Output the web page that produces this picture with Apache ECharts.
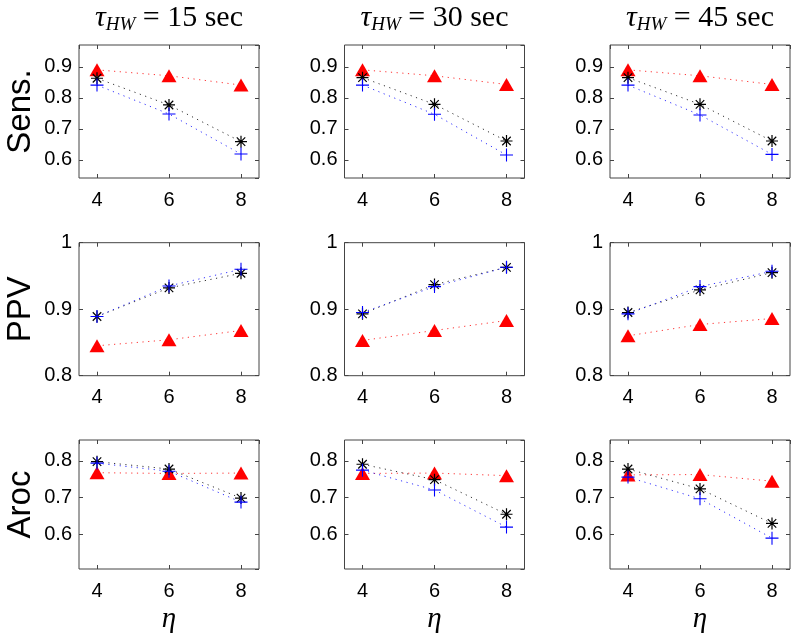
<!DOCTYPE html>
<html><head><meta charset="utf-8">
<script src="https://cdn.jsdelivr.net/npm/echarts/dist/echarts.min.js"></script>
<style>html,body{margin:0;padding:0;background:#fff}#c{width:800px;height:635px}</style>
</head><body><div id="c"></div>
<script>
// ---- data ----
const etas = [4, 6, 8];
const tauLabels = ['15', '30', '45'];
const metricNames = ['Sens.', 'PPV', 'Aroc'];
// each array: one row per tau (15, 30, 45), values at eta = 4, 6, 8
const sensTriangle = [[0.890, 0.871, 0.841], [0.890, 0.871, 0.843], [0.890, 0.871, 0.843]];
const sensStar     = [[0.863, 0.777, 0.659], [0.865, 0.779, 0.661], [0.865, 0.779, 0.661]];
const sensPlus     = [[0.841, 0.748, 0.619], [0.841, 0.747, 0.616], [0.841, 0.745, 0.618]];
const ppvTriangle  = [[0.845, 0.854, 0.868], [0.853, 0.868, 0.883], [0.860, 0.877, 0.886]];
const ppvStar      = [[0.889, 0.932, 0.954], [0.893, 0.937, 0.963], [0.895, 0.929, 0.955]];
const ppvPlus      = [[0.889, 0.935, 0.960], [0.895, 0.934, 0.963], [0.893, 0.934, 0.957]];
const arocTriangle = [[0.768, 0.766, 0.767], [0.766, 0.767, 0.760], [0.762, 0.763, 0.745]];
const arocStar     = [[0.798, 0.778, 0.699], [0.791, 0.749, 0.655], [0.778, 0.724, 0.630]];
const arocPlus     = [[0.794, 0.772, 0.688], [0.775, 0.721, 0.620], [0.756, 0.697, 0.590]];
const yRanges = [[0.542, 0.970], [0.8, 1.0], [0.506, 0.857]];
const xRange = [3.5, 8.5];

const metricData = [
  [sensTriangle, sensStar, sensPlus],
  [ppvTriangle, ppvStar, ppvPlus],
  [arocTriangle, arocStar, arocPlus]
];

// ---- layout ----
const colLeft = [79, 344.5, 610];
const rowTop = [45, 242.7, 440];
const W = 180, H = 133;
const AX = '#444';
const sans = 'Liberation Sans';
const serif = 'Liberation Serif';

const plusPath = 'path://M-0.5,-6H0.5V6H-0.5Z M-6,-0.5H6V0.5H-6Z';
const starPath = 'path://M-0.6,-6H0.6V6H-0.6Z M-6,-0.6H6V0.6H-6Z M-3.82,-4.66L4.66,3.82L3.82,4.66L-4.66,-3.82Z M-3.82,4.66L-4.66,3.82L3.82,-4.66L4.66,-3.82Z';

const grids = [], xAxes = [], yAxes = [], series = [], titles = [];

function isNice(v, step) {
  const k = v / step;
  return Math.abs(k - Math.round(k)) < 1e-6;
}

for (let r = 0; r < 3; r++) {
  for (let c = 0; c < 3; c++) {
    const g = r * 3 + c;
    grids.push({left: colLeft[c], top: rowTop[r], width: W, height: H,
      show: true, borderColor: AX, borderWidth: 1, backgroundColor: '#fff', containLabel: false});
    const xCommon = {type: 'value', gridIndex: g, min: xRange[0], max: xRange[1], splitNumber: 3,
      axisLine: {show: false}, splitLine: {show: false},
      axisTick: {show: true, inside: true, length: 4, lineStyle: {color: AX}}};
    xAxes.push(Object.assign({}, xCommon, {position: 'bottom',
      axisLabel: {show: true, margin: 12, color: '#000', fontFamily: sans, fontSize: 20,
        showMinLabel: false, showMaxLabel: false,
        formatter: v => isNice(v, 2) ? String(Math.round(v)) : ''},
      name: r === 2 ? 'η' : '', nameLocation: 'middle', nameGap: 36,
      nameTextStyle: {fontFamily: serif, fontStyle: 'italic', fontSize: 29, color: '#000'}}));
    const yr = yRanges[r];
    const yCommon = {type: 'value', gridIndex: g, min: yr[0], max: yr[1],
      axisLine: {show: false}, splitLine: {show: false},
      axisTick: {show: true, inside: true, length: 4, lineStyle: {color: AX}}};
    if (r === 1) { yCommon.interval = 0.1; } else { yCommon.splitNumber = 4; }
    yAxes.push(Object.assign({}, yCommon, {position: 'left',
      axisLabel: {show: true, margin: 7, color: '#000', fontFamily: sans, fontSize: 20,
        showMinLabel: r === 1, showMaxLabel: r === 1,
        formatter: v => isNice(v, 0.1) ? String(Math.round(v * 10) / 10) : ''},
      name: c === 0 ? metricNames[r] : '', nameLocation: 'middle', nameGap: 42,
      nameTextStyle: {fontFamily: sans, fontSize: 33, color: '#000'}}));
  }
}
// mirrored ticks on top and right
for (let g = 0; g < 9; g++) {
  const r = Math.floor(g / 3);
  xAxes.push({type: 'value', gridIndex: g, position: 'top', min: xRange[0], max: xRange[1], splitNumber: 3,
    axisLine: {show: false}, splitLine: {show: false}, axisLabel: {show: false},
    axisTick: {show: true, inside: true, length: 4, lineStyle: {color: AX}}});
  const yr = yRanges[r];
  const ya = {type: 'value', gridIndex: g, position: 'right', min: yr[0], max: yr[1],
    axisLine: {show: false}, splitLine: {show: false}, axisLabel: {show: false},
    axisTick: {show: true, inside: true, length: 4, lineStyle: {color: AX}}};
  if (r === 1) ya.interval = 0.1; else ya.splitNumber = 4;
  yAxes.push(ya);
}

const styles = [
  {color: '#ff0000', symbol: 'triangle', size: [15, 13]},
  {color: '#000000', symbol: starPath, size: 12},
  {color: '#0000ff', symbol: plusPath, size: 13}
];

for (let r = 0; r < 3; r++) {
  for (let c = 0; c < 3; c++) {
    const g = r * 3 + c;
    for (let s = 0; s < 3; s++) {
      const vals = metricData[r][s][c];
      const st = styles[s];
      series.push({type: 'line', xAxisIndex: g, yAxisIndex: g,
        data: etas.map((e, i) => [e, vals[i]]),
        symbol: st.symbol, symbolSize: st.size, showAllSymbol: true,
        itemStyle: {color: st.color},
        lineStyle: {color: st.color, width: 1, type: [1.2, 4.5], opacity: 0.8},
        z: 2 + s, silent: true, animation: false});
    }
  }
}

for (let c = 0; c < 3; c++) {
  titles.push({left: colLeft[c] + W / 2, top: 2, textAlign: 'center', padding: 0,
    text: '{i|τ}{s|HW}{n| = ' + tauLabels[c] + ' sec}',
    textStyle: {fontWeight: 'normal', rich: {
      i: {fontFamily: serif, fontStyle: 'italic', fontWeight: 'normal', fontSize: 30, color: '#000', lineHeight: 32},
      s: {fontFamily: serif, fontStyle: 'italic', fontWeight: 'normal', fontSize: 19, color: '#000', lineHeight: 12, verticalAlign: 'bottom'},
      n: {fontFamily: serif, fontWeight: 'normal', fontSize: 30, color: '#000', lineHeight: 32}
    }}});
}

const chart = echarts.init(document.getElementById('c'), null, {renderer: 'canvas'});
chart.setOption({animation: false, backgroundColor: '#fff', title: titles,
  grid: grids, xAxis: xAxes, yAxis: yAxes, series: series});
</script></body></html>
